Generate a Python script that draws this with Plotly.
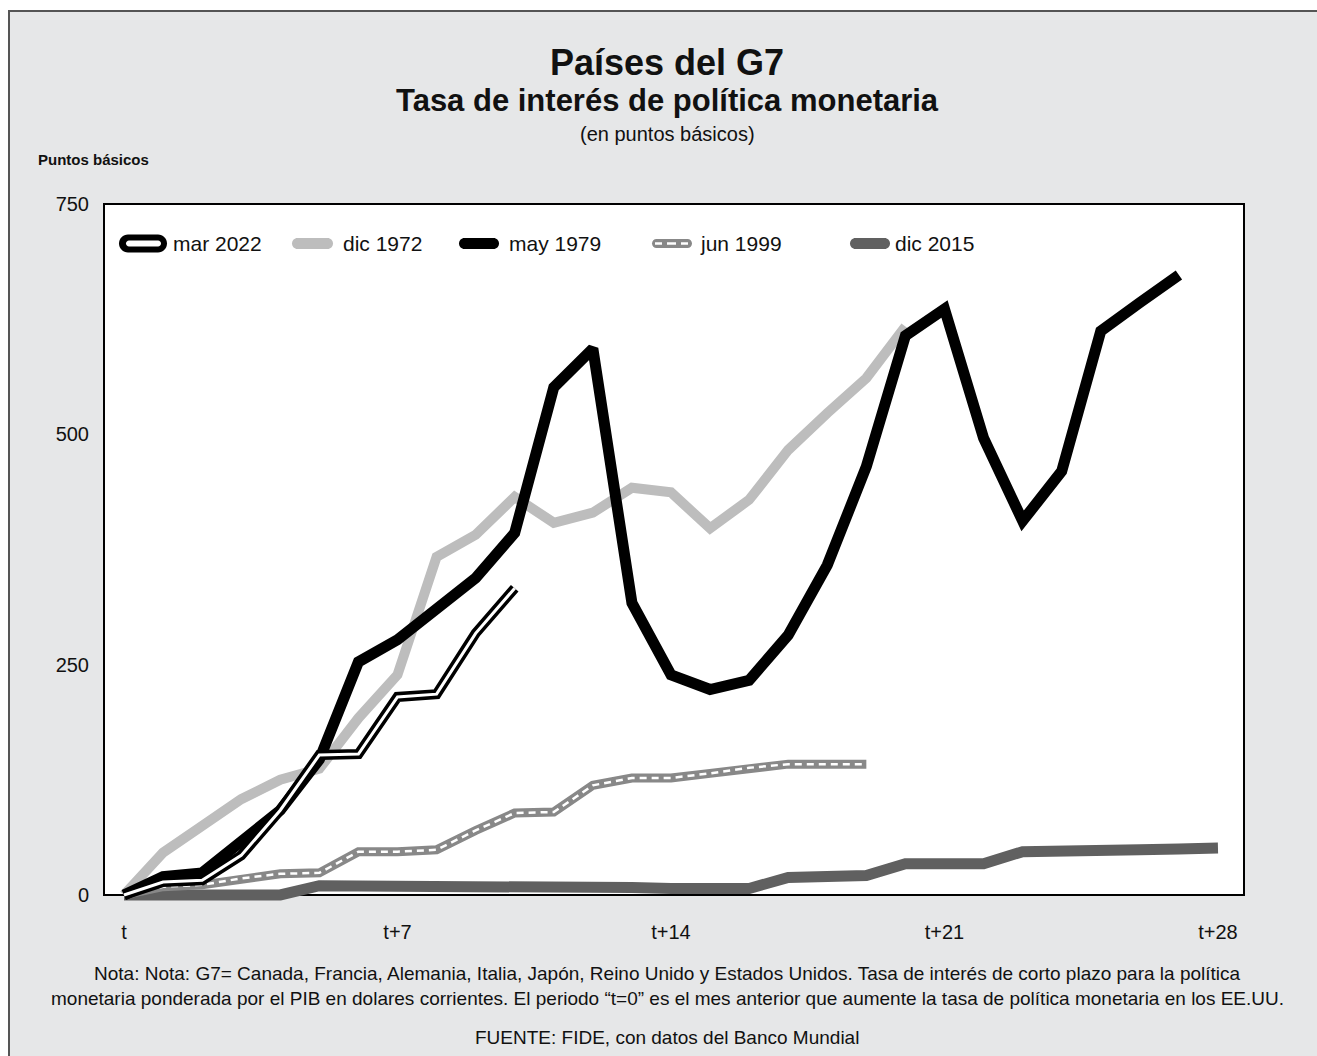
import plotly.graph_objects as go

# ---- data: change in policy rate (basis points) by months after t ----
months_mar2022 = list(range(0, 11))
mar_2022 = [0, 14, 16, 43, 92, 152, 153, 215, 218, 284, 333]

months_dic1972 = list(range(0, 21))
dic_1972 = [0, 46, 75, 104, 125, 137, 192, 239, 367, 391, 432, 404, 415, 442,
            437, 398, 429, 483, 523, 561, 617]

months_may1979 = list(range(0, 28))
may_1979 = [0, 20, 24, 58, 92, 147, 253, 277, 311, 344, 393, 551, 593, 317,
            239, 223, 233, 282, 358, 465, 607, 636, 496, 406, 460, 612, 643, 673]

months_jun1999 = list(range(0, 20))
jun_1999 = [0, 9, 11, 18, 23, 24, 47, 47, 49, 70, 89, 90, 119, 127, 127, 132,
            138, 142, 142, 142]

months_dic2015 = list(range(0, 29))
dic_2015 = [0, 0, 0, 0, 0, 10, 10, 10, 10, 10, 10, 10, 10, 8, 7, 7, 7, 19, 21,
            21, 34, 34, 34, 47, 47, 48, 49, 50, 51]

x_tickvals = [0, 7, 14, 21, 28]
x_ticktext = ["t", "t+7", "t+14", "t+21", "t+28"]
y_tickvals = [0, 250, 500, 750]

# ---- layout geometry (pixels) ----
W_FIG, H_FIG = 1317, 1056
L, T, R, B = 104, 204, 73, 152
PW, PH = W_FIG - L - R, H_FIG - T - B
Y_MIN, Y_MAX = -9.8, 750
X_MIN, X_MAX = -0.512, 28.666

FONT = "Liberation Sans Narrow, Arial Narrow, Liberation Sans, Arial, sans-serif"
INK = "#111111"


def px_x(px):
    return (px - L) / PW


def px_y(py):
    return (T + PH - py) / PH


def capsule(xl, xr, yc, h):
    """Rounded-end bar path (pixel inputs) in paper coordinates."""
    r = h / 2.0
    k = 0.5523 * r
    top, bot = yc - r, yc + r
    pts = [
        ("M", [(xl + r, top)]),
        ("L", [(xr - r, top)]),
        ("C", [(xr - r + k, top), (xr, yc - k), (xr, yc)]),
        ("C", [(xr, yc + k), (xr - r + k, bot), (xr - r, bot)]),
        ("L", [(xl + r, bot)]),
        ("C", [(xl + r - k, bot), (xl, yc + k), (xl, yc)]),
        ("C", [(xl, yc - k), (xl + r - k, top), (xl + r, top)]),
    ]
    s = ""
    for cmd, ps in pts:
        s += cmd + " " + " ".join(f"{px_x(a):.5f},{px_y(b):.5f}" for a, b in ps) + " "
    return s + "Z"


fig = go.Figure()

# series, back to front
fig.add_trace(go.Scatter(x=months_dic2015, y=dic_2015, mode="lines", name="dic 2015",
                         line=dict(color="#606060", width=11)))
fig.add_trace(go.Scatter(x=months_jun1999, y=jun_1999, mode="lines", name="jun 1999",
                         line=dict(color="#888888", width=9)))
fig.add_trace(go.Scatter(x=months_jun1999, y=jun_1999, mode="lines", showlegend=False,
                         line=dict(color="white", width=2.5, dash="7px,5px")))
fig.add_trace(go.Scatter(x=months_dic1972, y=dic_1972, mode="lines", name="dic 1972",
                         line=dict(color="#bdbdbd", width=10)))
fig.add_trace(go.Scatter(x=months_may1979, y=may_1979, mode="lines", name="may 1979",
                         line=dict(color="black", width=11)))
fig.add_trace(go.Scatter(x=months_mar2022, y=mar_2022, mode="lines", name="mar 2022",
                         line=dict(color="black", width=10)))
fig.add_trace(go.Scatter(x=months_mar2022, y=mar_2022, mode="lines", showlegend=False,
                         line=dict(color="white", width=3)))

shapes = []
# gray card with border
shapes.append(dict(type="rect", xref="paper", yref="paper", layer="below",
                   x0=px_x(9), x1=px_x(1340), y0=px_y(1080), y1=px_y(11),
                   fillcolor="#e6e7e8", line=dict(color="#555555", width=2)))
# white plotting frame (value 0 to 750)
y0_frac = (0 - Y_MIN) / (Y_MAX - Y_MIN)
shapes.append(dict(type="rect", xref="paper", yref="paper", layer="below",
                   x0=0, x1=1, y0=y0_frac, y1=1,
                   fillcolor="white", line=dict(color="black", width=2)))

# hand-built legend
LEG_Y = 243.5
shapes.append(dict(type="path", xref="paper", yref="paper", path=capsule(119, 167, LEG_Y, 18),
                   fillcolor="black", line=dict(width=0)))
shapes.append(dict(type="path", xref="paper", yref="paper", path=capsule(126, 161, LEG_Y, 6),
                   fillcolor="white", line=dict(width=0)))
shapes.append(dict(type="path", xref="paper", yref="paper", path=capsule(292, 333, LEG_Y, 11),
                   fillcolor="#bdbdbd", line=dict(width=0)))
shapes.append(dict(type="path", xref="paper", yref="paper", path=capsule(459, 499, LEG_Y, 11),
                   fillcolor="black", line=dict(width=0)))
shapes.append(dict(type="path", xref="paper", yref="paper", path=capsule(652, 692, LEG_Y, 9),
                   fillcolor="#888888", line=dict(width=0)))
for a, b in [(655, 662), (667, 676), (681, 688)]:
    shapes.append(dict(type="line", xref="paper", yref="paper",
                       x0=px_x(a), x1=px_x(b), y0=px_y(LEG_Y), y1=px_y(LEG_Y),
                       line=dict(color="white", width=2.5)))
shapes.append(dict(type="path", xref="paper", yref="paper", path=capsule(850, 890, LEG_Y, 11),
                   fillcolor="#606060", line=dict(width=0)))

annotations = []
for label, px in [("mar 2022", 171), ("dic 1972", 341), ("may 1979", 507),
                  ("jun 1999", 698), ("dic 2015", 893)]:
    annotations.append(dict(text=label, xref="paper", yref="paper", x=px_x(px), y=px_y(LEG_Y),
                            xanchor="left", yanchor="middle", showarrow=False,
                            font=dict(family=FONT, size=21, color=INK)))

annotations += [
    dict(text="<b>Países del G7</b>", x=px_x(667), y=px_y(62), xanchor="center", yanchor="middle",
         font=dict(family=FONT, size=36, color=INK)),
    dict(text="<b>Tasa de interés de política monetaria</b>", x=px_x(667), y=px_y(101),
         xanchor="center", yanchor="middle", font=dict(family=FONT, size=31, color=INK)),
    dict(text="(en puntos básicos)", x=px_x(667), y=px_y(134), xanchor="center", yanchor="middle",
         font=dict(family=FONT, size=20, color=INK)),
    dict(text="<b>Puntos básicos</b>", x=px_x(36), y=px_y(160), xanchor="left", yanchor="middle",
         font=dict(family=FONT, size=15, color=INK)),
    dict(text="Nota: Nota: G7= Canada, Francia, Alemania, Italia, Japón, Reino Unido y Estados Unidos. "
              "Tasa de interés de corto plazo para la política",
         x=px_x(667), y=px_y(973), xanchor="center", yanchor="middle",
         font=dict(family=FONT, size=19, color=INK)),
    dict(text="monetaria ponderada por el PIB en dolares corrientes. El periodo “t=0” es el mes anterior "
              "que aumente la tasa de política monetaria en los EE.UU.",
         x=px_x(667), y=px_y(998), xanchor="center", yanchor="middle",
         font=dict(family=FONT, size=19, color=INK)),
    dict(text="FUENTE: FIDE, con datos del Banco Mundial", x=px_x(667), y=px_y(1037),
         xanchor="center", yanchor="middle", font=dict(family=FONT, size=19, color=INK)),
]
for a in annotations:
    a.setdefault("xref", "paper")
    a.setdefault("yref", "paper")
    a.setdefault("showarrow", False)

fig.update_layout(
    width=W_FIG, height=H_FIG, autosize=False,
    margin=dict(l=L, r=R, t=T, b=B, pad=0),
    paper_bgcolor="white", plot_bgcolor="rgba(0,0,0,0)",
    showlegend=False,
    shapes=shapes, annotations=annotations,
    xaxis=dict(range=[X_MIN, X_MAX], tickvals=x_tickvals, ticktext=x_ticktext,
               showgrid=False, zeroline=False, showline=False, ticks="",
               ticklabelstandoff=14,
               tickfont=dict(family=FONT, size=20, color=INK)),
    yaxis=dict(range=[Y_MIN, Y_MAX], tickvals=y_tickvals,
               showgrid=False, zeroline=False, showline=False, ticks="",
               ticklabelstandoff=14,
               tickfont=dict(family=FONT, size=20, color=INK)),
)

fig.write_html("out.html")
